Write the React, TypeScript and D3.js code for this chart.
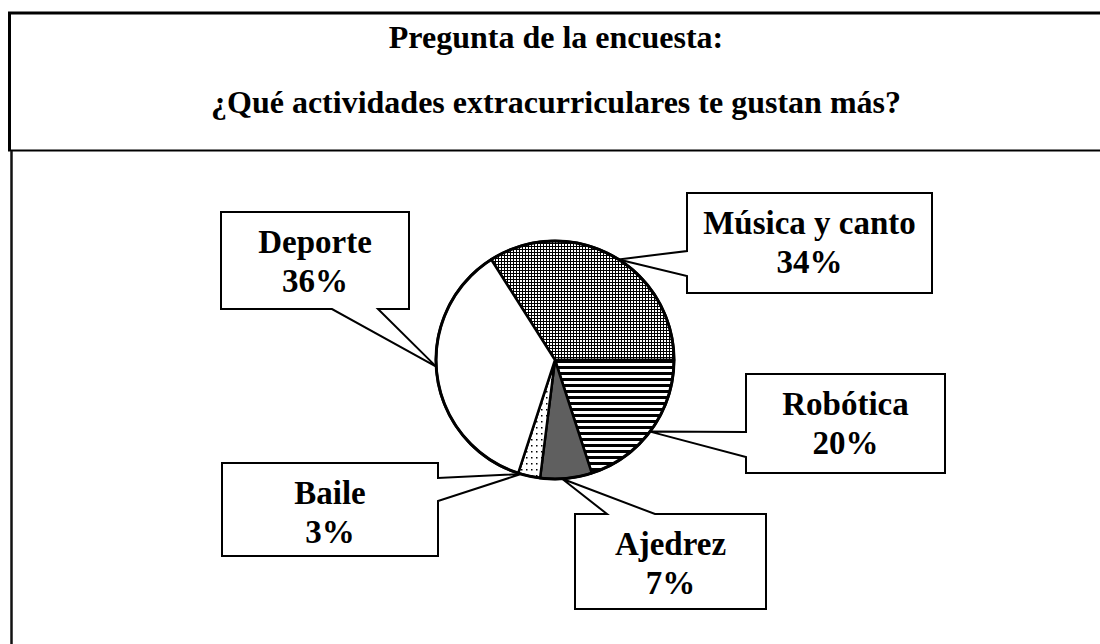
import React from 'react';
import * as d3 from 'd3';

const categories = ['Música y canto', 'Robótica', 'Ajedrez', 'Baile', 'Deporte'];
const values = [34, 20, 7, 3, 36];
const percentLabels = ['34%', '20%', '7%', '3%', '36%'];
const titleLines = ['Pregunta de la encuesta:', '¿Qué actividades extracurriculares te gustan más?'];

const sliceFills = ['url(#checker)', 'url(#hstripes)', '#5f5f5f', 'url(#dots)', '#ffffff'];

type Side = 'left' | 'right' | 'top' | 'bottom';
const calloutLayout: { x: number; y: number; w: number; h: number; side: Side; a: number; b: number; tipShift: number }[] = [
  { x: 687, y: 193, w: 245, h: 100, side: 'left', a: 251, b: 276, tipShift: 3.5 },
  { x: 746, y: 374, w: 199, h: 99, side: 'left', a: 432, b: 457, tipShift: 1 },
  { x: 575, y: 514, w: 191, h: 95, side: 'top', a: 607, b: 655, tipShift: 2 },
  { x: 222, y: 463, w: 216, h: 93, side: 'right', a: 478, b: 501, tipShift: 4 },
  { x: 221, y: 212, w: 188, h: 97, side: 'bottom', a: 332, b: 378, tipShift: 4 },
];

const W = 1100;
const H = 644;
const cx = 555;
const cy = 360;
const R = 119;
const FONT = '"Liberation Serif", "Times New Roman", serif';

function calloutPath(l: typeof calloutLayout[number], tx: number, ty: number) {
  const { x, y, w, h, side, a, b } = l;
  const p = d3.path();
  if (side === 'top') {
    p.moveTo(x, y); p.lineTo(a, y); p.lineTo(tx, ty); p.lineTo(b, y);
    p.lineTo(x + w, y); p.lineTo(x + w, y + h); p.lineTo(x, y + h);
  } else if (side === 'right') {
    p.moveTo(x, y); p.lineTo(x + w, y); p.lineTo(x + w, a); p.lineTo(tx, ty);
    p.lineTo(x + w, b); p.lineTo(x + w, y + h); p.lineTo(x, y + h);
  } else if (side === 'bottom') {
    p.moveTo(x, y); p.lineTo(x + w, y); p.lineTo(x + w, y + h); p.lineTo(b, y + h);
    p.lineTo(tx, ty); p.lineTo(a, y + h); p.lineTo(x, y + h);
  } else {
    p.moveTo(x, y); p.lineTo(x + w, y); p.lineTo(x + w, y + h); p.lineTo(x, y + h);
    p.lineTo(x, b); p.lineTo(tx, ty); p.lineTo(x, a);
  }
  p.closePath();
  return p.toString();
}

export default function App() {
  const start = -0.09 * 2 * Math.PI;
  const pie = d3.pie<number>().sort(null).value((d) => d).startAngle(start).endAngle(start + 2 * Math.PI);
  const arcs = pie(values);
  const arcGen = d3.arc<d3.PieArcDatum<number>>().innerRadius(0).outerRadius(R);

  return (
    <svg width={W} height={H} style={{ position: 'absolute', left: 0, top: 0, background: '#fff' }}>
      <defs>
        <pattern id="checker" width={3} height={3} patternUnits="userSpaceOnUse">
          <rect width={3} height={3} fill="#fff" />
          <rect x={0} y={0} width={1} height={3} fill="#000" />
          <rect x={0} y={0} width={3} height={1} fill="#000" />
        </pattern>
        <pattern id="hstripes" width={8} height={6} patternUnits="userSpaceOnUse">
          <rect width={8} height={6} fill="#fff" />
          <rect x={0} y={0} width={8} height={3} fill="#000" />
        </pattern>
        <pattern id="dots" width={5} height={6} patternUnits="userSpaceOnUse">
          <rect width={5} height={6} fill="#fff" />
          <rect x={1} y={1} width={1.5} height={1.5} fill="#000" />
        </pattern>
      </defs>

      {/* frame */}
      <line x1={8} x2={W} y1={13} y2={13} stroke="#000" strokeWidth={3} />
      <line x1={9.5} x2={9.5} y1={12} y2={151} stroke="#000" strokeWidth={3} />
      <line x1={8} x2={W} y1={150.5} y2={150.5} stroke="#000" strokeWidth={2} />
      <line x1={11.5} x2={11.5} y1={151} y2={H} stroke="#111" strokeWidth={2.5} />

      {/* title */}
      {titleLines.map((t, i) => (
        <text key={i} x={556} y={48 + i * 65} textAnchor="middle" fontFamily={FONT} fontWeight="bold" fontSize={32} fill="#000">
          {t}
        </text>
      ))}

      {/* pie */}
      <g transform={`translate(${cx},${cy})`}>
        {arcs.map((a, i) => (
          <path key={i} d={arcGen(a) || ''} fill={sliceFills[i]} stroke="#000" strokeWidth={2.5} strokeLinejoin="round" />
        ))}
        <circle r={R} fill="none" stroke="#000" strokeWidth={3} />
      </g>

      {/* callouts */}
      {arcs.map((a, i) => {
        const l = calloutLayout[i];
        const ang = (a.startAngle + a.endAngle) / 2 + (l.tipShift * Math.PI) / 180;
        const tx = cx + Math.sin(ang) * R;
        const ty = cy - Math.cos(ang) * R;
        return (
          <g key={i}>
            <path d={calloutPath(l, tx, ty)} fill="#fff" stroke="#000" strokeWidth={2} strokeLinejoin="miter" />
            <text x={l.x + l.w / 2} y={l.y + 41} textAnchor="middle" fontFamily={FONT} fontWeight="bold" fontSize={33} fill="#000">
              {categories[i]}
            </text>
            <text x={l.x + l.w / 2} y={l.y + 80} textAnchor="middle" fontFamily={FONT} fontWeight="bold" fontSize={33} fill="#000">
              {percentLabels[i]}
            </text>
          </g>
        );
      })}
    </svg>
  );
}
